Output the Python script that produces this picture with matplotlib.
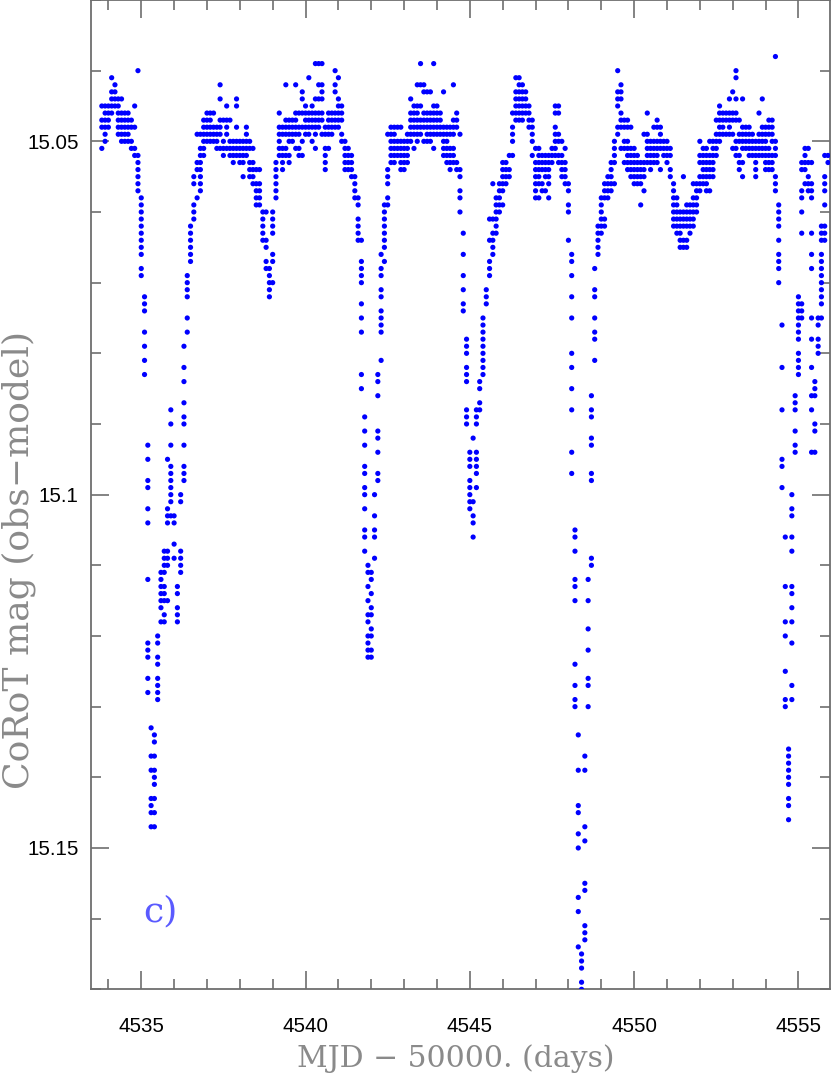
import matplotlib
matplotlib.use("Agg")
import matplotlib.pyplot as plt
from matplotlib.ticker import MultipleLocator, FixedLocator, FixedFormatter

# CoRoT light curve.
# Times are grouped in 0.1-day bins; each inner list holds the magnitudes
# (in millimag above 15.000) seen in that bin.
bin_start = 4533.8
bin_width = 0.1
mmag_bins = [
    [45, 47, 48, 51], [45, 46, 47, 48, 49, 50], [45, 46, 47, 48], [41, 43, 44, 45, 46],
    [42, 43, 44, 45], [44, 45, 46, 47, 48, 49], [44, 46, 47, 48, 49, 50], [46, 47, 48, 49, 50],
    [46, 47, 48, 49, 50], [47, 48, 50, 51], [45, 48, 51, 52], [40, 52, 53, 54, 55, 56, 57],
    [58, 59, 60, 61, 62, 63, 64, 65, 66, 68, 69], [72, 73, 74, 77, 79, 81, 83],
    [93, 95, 98, 99, 102, 104, 112, 121, 122, 123, 126, 128], [133, 137, 139, 143, 144, 145, 147],
    [134, 135, 137, 139, 140, 141, 143, 145, 147], [120, 121, 123, 124, 126, 127, 128, 129],
    [111, 112, 113, 114, 115, 116, 118], [108, 109, 110, 111, 113, 114, 115, 117, 118],
    [95, 102, 103, 104, 108, 109, 110, 115], [88, 90, 93, 96, 97, 98, 99, 100, 101, 103],
    [103, 104, 107, 109], [113, 114, 116, 117, 118], [100, 101, 108, 109, 110, 111],
    [79, 82, 84, 87, 89, 90, 93, 96, 97, 98], [69, 70, 71, 72, 75, 77], [62, 63, 64, 65, 66, 67],
    [55, 56, 59, 60, 61], [49, 53, 54, 58], [49, 51, 52, 53, 54, 55, 56, 57],
    [47, 48, 49, 50, 51, 52], [46, 47, 48, 49, 50], [46, 47, 48, 49, 50], [46, 48, 49, 50],
    [48, 49, 50, 51], [42, 44, 47, 48, 49, 51], [47, 50, 51, 52], [45, 47, 48, 49, 51],
    [47, 50, 51, 52], [50, 51, 52, 53], [44, 45, 48, 50, 51, 52], [50, 51, 52, 53],
    [50, 51, 52, 53, 55], [48, 49, 50, 51, 52], [50, 51, 53, 54, 55], [51, 53, 54, 55, 56],
    [54, 56, 57, 58, 59], [54, 56, 57, 58, 59], [60, 61, 62, 63, 64], [60, 64, 65, 67, 68],
    [68, 69, 70, 71, 72], [60, 61, 62, 63, 66, 67, 70], [53, 54, 55, 56, 57, 58],
    [46, 48, 49, 50, 51, 52], [48, 49, 51, 52, 53, 54], [42, 47, 48, 49, 51, 52],
    [47, 48, 49, 50, 52, 53], [47, 48, 49, 50], [42, 46, 47, 48, 49, 51], [46, 48, 49, 51, 52],
    [43, 44, 46, 48, 50, 52], [45, 46, 47, 48, 49], [41, 46, 47, 48, 49], [45, 46, 47, 48, 50],
    [39, 44, 46, 47, 48, 49, 51], [39, 42, 44, 46, 47, 48], [39, 42, 43, 44, 46, 47, 49],
    [48, 49, 51, 52, 53, 54], [46, 47, 48, 49, 51], [46, 47, 48, 49], [40, 42, 43, 46, 47, 48],
    [41, 44, 45, 46, 47, 48], [45, 46, 47, 49, 50], [50, 51, 52, 53, 54], [51, 52, 53, 54],
    [52, 53, 54, 55], [55, 56, 57, 58], [58, 59, 61, 62, 63, 64],
    [64, 67, 68, 69, 70, 73, 75, 77, 83, 85],
    [89, 91, 93, 96, 97, 99, 100, 102, 105, 106, 108],
    [110, 111, 113, 115, 117, 118, 120, 121, 122, 123],
    [111, 112, 114, 116, 117, 119, 120, 122, 123],
    [100, 103, 105, 106, 109], [83, 84, 86, 91, 92, 94, 97, 98],
    [66, 68, 69, 71, 72, 74, 75, 76, 77, 81], [59, 60, 61, 62, 63, 64, 65, 67],
    [49, 54, 55, 56, 58, 59], [48, 49, 50, 51, 52, 53], [48, 49, 50, 51, 52, 53],
    [48, 50, 51, 52], [48, 50, 51, 52, 53, 54], [50, 51, 52, 53, 54], [49, 50, 51, 52, 53],
    [44, 46, 47, 48, 49, 50], [45, 46, 47, 48, 49, 51], [42, 45, 46, 47, 48, 49, 50],
    [39, 42, 45, 47, 48, 49], [42, 43, 46, 47, 48, 50], [43, 46, 47, 48, 49, 50],
    [43, 46, 47, 48, 49, 50], [39, 45, 46, 47, 48, 49, 51], [45, 46, 47, 48, 49],
    [46, 47, 48, 49], [43, 48, 49, 50, 51, 52], [48, 49, 50, 51, 52, 53],
    [48, 49, 51, 52, 53, 54], [42, 47, 48, 49, 51, 52, 53], [46, 47, 48, 53, 54],
    [49, 54, 55, 57, 58, 60], [63, 66, 69, 71, 73, 74], [78, 79, 80, 82, 83, 84, 88, 89, 90],
    [94, 95, 96, 98, 99, 100, 101, 102], [92, 101, 103, 104, 106],
    [88, 89, 90, 94, 95, 96, 97, 99], [84, 85, 87, 88], [75, 76, 77, 78, 79, 80, 81, 82, 83],
    [71, 72, 73], [61, 64, 67, 68, 69], [56, 61, 63, 64, 65, 66], [58, 59, 60, 61, 62, 63],
    [56, 57, 58, 59, 60], [53, 54, 55, 56, 57, 59], [53, 54, 55, 56], [52, 54, 55],
    [46, 48, 49, 50, 52], [41, 43, 44, 45, 46, 47], [41, 42, 43, 44, 45, 46, 47],
    [42, 43, 44, 45, 46, 47], [43, 44, 45, 46], [45, 46, 47, 48], [47, 48, 49, 50, 52],
    [51, 53, 54, 55, 56, 57, 58], [51, 52, 53, 54, 55, 56, 58], [52, 53, 54, 56, 57],
    [52, 53, 54, 55, 57], [52, 53, 54, 55, 56, 58], [51, 52, 53], [45, 46, 48, 49, 50, 51, 52],
    [45, 46, 49, 50, 52, 53], [50, 52, 53, 54, 55], [51, 53, 54, 55, 56], [56, 57, 59, 60, 64],
    [66, 67, 69, 72, 75, 80, 82, 85, 88, 94, 97],
    [105, 106, 108, 112, 113, 115, 124, 127, 129, 130],
    [134, 139, 144, 145, 148, 150, 157, 159, 164], [165, 166, 167, 169, 170],
    [137, 139, 147, 149, 155, 156, 161, 162, 163], [112, 115, 119, 122, 126, 127, 130],
    [86, 88, 89, 92, 93, 97, 98, 109, 110], [68, 71, 72, 75, 77, 78, 81],
    [62, 63, 64, 65, 66], [58, 59, 60, 61, 62, 63], [56, 57, 58, 61, 62], [55, 56, 57, 58],
    [53, 54, 55, 56, 57], [50, 51, 52, 53, 56], [40, 43, 44, 45, 48, 49],
    [42, 43, 44, 46, 47, 48, 51], [47, 48, 50, 51, 53], [47, 48, 50, 51, 52, 53, 54],
    [48, 51, 52, 53, 54, 55], [51, 52, 53, 54, 55, 56], [52, 53, 54, 55, 56],
    [53, 54, 55, 56, 59], [49, 53, 54, 55, 57], [46, 49, 50, 51, 52, 53], [50, 51, 52, 53, 54],
    [48, 50, 51, 52, 53], [47, 48, 50, 51, 52, 53], [48, 49, 50, 51, 54], [50, 51, 52],
    [50, 51, 52, 53], [51, 52, 54, 55], [56, 57, 58, 59, 60, 61, 62], [58, 59, 60, 61, 62, 63],
    [60, 61, 62, 63, 64, 65], [55, 60, 61, 62, 64, 65], [59, 60, 61, 62, 64, 65],
    [59, 60, 61, 62, 63], [56, 58, 59, 60, 61, 62], [56, 57, 58, 59, 60], [50, 52, 53, 55, 56, 57],
    [51, 52, 53, 54, 55, 56], [51, 52, 53, 54, 55, 56, 57], [50, 52, 53, 54, 55, 57],
    [50, 51, 52, 53, 54, 55], [47, 49, 50, 51, 52], [45, 46, 47, 48, 49, 50], [46, 47, 48, 49],
    [46, 47, 49], [44, 46, 47, 48, 49], [43, 46, 47, 49, 51], [40, 41, 44, 46, 47, 50, 51, 52],
    [47, 49, 50, 52, 53, 54], [44, 48, 49, 50, 51, 53, 55], [48, 49, 50, 51], [48, 49, 50, 51, 52],
    [49, 50, 51, 52], [50, 51, 52, 53, 54, 55], [46, 49, 50, 51, 52], [44, 48, 49, 50, 51, 52],
    [48, 49, 50, 51, 52, 53, 54], [47, 48, 49, 51, 52, 53, 54], [47, 48, 49, 50, 52, 53, 54],
    [38, 50, 51, 52, 55, 56, 57], [59, 60, 61, 62, 64, 66, 67, 68, 70], [76, 82, 88, 95, 96, 99],
    [106, 113, 118, 120, 125, 129, 130], [136, 137, 138, 139, 140, 141, 143, 144, 146],
    [100, 102, 103, 106, 108, 113, 114, 116, 118, 121, 127, 129], [86, 87, 88, 91, 93, 94],
    [72, 73, 74, 75, 76, 77, 78, 80, 81, 82, 83], [53, 54, 57, 58, 60, 63, 73, 74, 75],
    [51, 52, 53, 54, 56], [51, 53, 55, 56, 57],
    [53, 56, 57, 58, 63, 66, 68, 75, 78, 82, 86, 88, 94], [84, 85, 86, 90, 91, 94],
    [75, 76, 78, 79, 80], [62, 63, 64, 66, 67, 68, 69, 70, 71, 72, 73, 75],
    [52, 55, 56, 57, 59, 62, 63, 64], [52, 53],
]

x_major = [4535, 4540, 4545, 4550, 4555]
y_major = [15.05, 15.10, 15.15]
y_major_labels = ["15.05", "15.1", "15.15"]
x_label = "MJD \u2212 50000. (days)"
y_label = "CoRoT mag (obs\u2212model)"
panel_label = "c)"

times, mags = [], []
for i, vals in enumerate(mmag_bins):
    for v in vals:
        times.append(bin_start + i * bin_width)
        mags.append(15.0 + v / 1000.0)

W, H = 831, 1079
fig = plt.figure(figsize=(W / 100, H / 100), dpi=100)
ax = fig.add_axes([91.3 / W, 1 - 989.3 / H, (830.3 - 91.3) / W, 989.3 / H])

ax.scatter(times, mags, s=14, c="#0000ff", edgecolors="none", zorder=3)

ax.set_xlim(4533.48, 4555.97)
ax.set_ylim(15.170, 15.030)

axis_grey = "#6e6e6e"
for sp in ax.spines.values():
    sp.set_color(axis_grey)
    sp.set_linewidth(1.3)

ax.xaxis.set_major_locator(FixedLocator(x_major))
ax.xaxis.set_minor_locator(MultipleLocator(1))
ax.yaxis.set_major_locator(FixedLocator(y_major))
ax.yaxis.set_major_formatter(FixedFormatter(y_major_labels))
ax.yaxis.set_minor_locator(MultipleLocator(0.01))
ax.tick_params(which="both", direction="in", top=True, right=True,
               color=axis_grey, width=1.2)
ax.tick_params(which="major", length=13, labelsize=14.8)
ax.tick_params(which="minor", length=7)
ax.tick_params(axis="x", which="major", pad=20)
ax.tick_params(axis="y", which="major", pad=9)
for lab in ax.get_xticklabels() + ax.get_yticklabels():
    lab.set_family("Liberation Sans")

fig.text(456 / W, 1 - 1059 / H, x_label, family="DejaVu Serif", fontsize=21.5,
         color="#8a8a8a", ha="center", va="center")
fig.text(19 / W, 1 - 560 / H, y_label, family="DejaVu Serif", fontsize=26,
         color="#8a8a8a", ha="center", va="center", rotation=90)

ax.text(4535.57, 15.159, panel_label, family="DejaVu Serif", fontsize=26,
        color="#5a5aff", ha="center", va="center")

fig.savefig("out.png", dpi=100)
